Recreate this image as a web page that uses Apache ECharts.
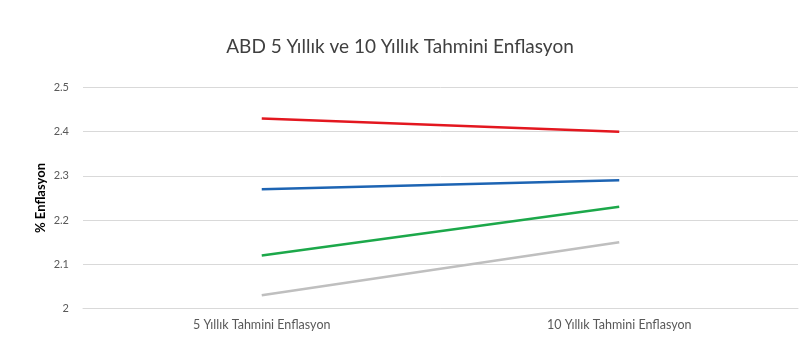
<!DOCTYPE html>
<html>
<head>
<meta charset="utf-8">
<script src="https://cdn.jsdelivr.net/npm/echarts@6/dist/echarts.min.js"></script>
<style>html,body{margin:0;padding:0;background:#fff}#c{width:800px;height:354px}</style>
</head>
<body>
<div id="c"></div>
<script>
const categories = ['5 Yıllık Tahmini Enflasyon', '10 Yıllık Tahmini Enflasyon'];
const redValues = [2.43, 2.40];
const blueValues = [2.27, 2.29];
const greenValues = [2.12, 2.23];
const grayValues = [2.03, 2.15];
const yTicks = [2, 2.1, 2.2, 2.3, 2.4, 2.5];

const font = 'Lato, "Open Sans", sans-serif';
const chart = echarts.init(document.getElementById('c'), null, {renderer: 'canvas'});
function line(name, data, color) {
  return {name, type: 'line', data, showSymbol: false, symbol: 'none',
    lineStyle: {color, width: 2.5}, itemStyle: {color}, animation: false};
}
chart.setOption({
  animation: false,
  backgroundColor: '#fff',
  title: {text: 'ABD 5 Yıllık ve 10 Yıllık Tahmini Enflasyon', left: 'center', top: 32,
    textStyle: {fontFamily: font, fontSize: 19, fontWeight: 'normal', color: '#404040'}},
  grid: {left: 83, right: 2, top: 87.5, bottom: 45.5},
  xAxis: {type: 'category', data: categories, boundaryGap: true,
    axisLine: {show: true, lineStyle: {color: '#d9d9d9', width: 1}},
    axisTick: {show: false},
    axisLabel: {fontFamily: font, fontSize: 12.5, color: '#595959', margin: 10}},
  yAxis: {type: 'value', min: 2, max: 2.5, interval: 0.1,
    name: '% Enflasyon', nameLocation: 'middle', nameGap: 36, nameMoveOverlap: false,
    nameTextStyle: {fontFamily: font, fontSize: 13, fontWeight: 'bold', color: '#000'},
    axisLine: {show: false}, axisTick: {show: false},
    splitLine: {lineStyle: {color: '#d9d9d9', width: 1}},
    axisLabel: {fontFamily: font, fontSize: 11, color: '#595959', margin: 14,
      formatter: v => { const t = yTicks.find(x => Math.abs(x - v) < 1e-9); return String(t !== undefined ? t : v); }}},
  series: [
    line('Kırmızı', redValues, '#e3171f'),
    line('Mavi', blueValues, '#1d64b3'),
    line('Yeşil', greenValues, '#1ca84a'),
    line('Gri', grayValues, '#bfbfbf')
  ]
});
</script>
</body>
</html>
